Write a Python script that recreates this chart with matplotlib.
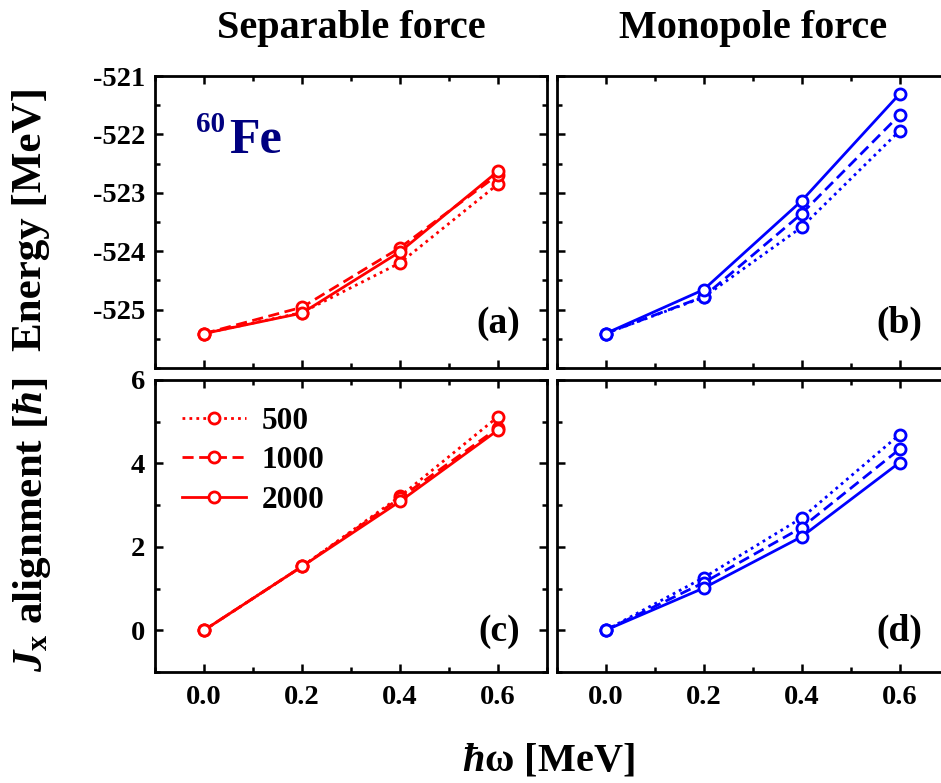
import matplotlib
matplotlib.use("Agg")
import matplotlib.pyplot as plt
from matplotlib.ticker import MultipleLocator

plt.rcParams['font.family'] = ['Liberation Serif', 'DejaVu Serif']
plt.rcParams['font.weight'] = 'bold'
plt.rcParams['mathtext.fontset'] = 'custom'
plt.rcParams['mathtext.rm'] = 'Liberation Serif:bold'
plt.rcParams['mathtext.it'] = 'Liberation Serif:italic:bold'
plt.rcParams['mathtext.bf'] = 'Liberation Serif:bold'

# ---- data ----
omega = [0.0, 0.2, 0.4, 0.6]
labels = ['500', '1000', '2000']
styles = [':', '--', '-']

# Separable force energies
E_sep_500 = [-525.41, -525.05, -524.20, -522.85]
E_sep_1000 = [-525.41, -524.96, -523.94, -522.69]
E_sep_2000 = [-525.41, -525.06, -524.01, -522.63]
# Monopole force energies
E_mon_500 = [-525.41, -524.79, -523.59, -521.94]
E_mon_1000 = [-525.41, -524.78, -523.36, -521.67]
E_mon_2000 = [-525.41, -524.66, -523.14, -521.31]
# Separable alignment
J_sep_500 = [0.0, 1.53, 3.21, 5.12]
J_sep_1000 = [0.0, 1.53, 3.17, 4.85]
J_sep_2000 = [0.0, 1.53, 3.09, 4.80]
# Monopole alignment
J_mon_500 = [0.0, 1.26, 2.69, 4.69]
J_mon_1000 = [0.0, 1.14, 2.46, 4.34]
J_mon_2000 = [0.0, 1.01, 2.24, 4.02]

RED = '#ff0000'
BLUE = '#0000ff'
NAVY = '#000080'

W, H = 941, 783
fig = plt.figure(figsize=(W/100, H/100), dpi=100)

def ax_at(x0, y0, x1, y1):
    return fig.add_axes([x0/W, 1-y1/H, (x1-x0)/W, (y1-y0)/H])

def fx(px):
    return px / W

def fy(py):
    return 1 - py / H

axA = ax_at(155, 76, 547, 368)
axB = ax_at(556.5, 76, 948.5, 368)
axC = ax_at(155, 380, 547, 672)
axD = ax_at(556.5, 380, 948.5, 672)

def style(ax, ylim, ymaj, ymin, showx, showy):
    ax.set_xlim(-0.1, 0.7)
    ax.set_ylim(*ylim)
    ax.xaxis.set_major_locator(MultipleLocator(0.2))
    ax.xaxis.set_minor_locator(MultipleLocator(0.1))
    ax.yaxis.set_major_locator(MultipleLocator(ymaj))
    ax.yaxis.set_minor_locator(MultipleLocator(ymin))
    ax.tick_params(which='both', direction='in', top=True, right=True,
                   labelsize=20.5, width=1.8)
    ax.tick_params(axis='x', pad=9)
    ax.tick_params(axis='y', pad=7)
    ax.tick_params(which='major', length=6)
    ax.tick_params(which='minor', length=3.5)
    for s in ax.spines.values():
        s.set_linewidth(2.0)
    if not showx:
        ax.tick_params(labelbottom=False)
    else:
        ax.set_xticks(omega)
        ax.set_xticklabels(['%.1f' % v for v in omega])
    if not showy:
        ax.tick_params(labelleft=False)

DASHES = {':': (1, 1.5), '--': (4, 2)}

def plot3(ax, series, color):
    for ys, ls, lab in zip(series, styles, labels):
        line, = ax.plot(omega, ys, ls=ls, color=color, lw=2.0, marker='o', ms=8,
                        mfc='white', mec=color, mew=2.0, label=lab)
        if ls in DASHES:
            line.set_dashes(DASHES[ls])

plot3(axA, [E_sep_500, E_sep_1000, E_sep_2000], RED)
plot3(axB, [E_mon_500, E_mon_1000, E_mon_2000], BLUE)
plot3(axC, [J_sep_500, J_sep_1000, J_sep_2000], RED)
plot3(axD, [J_mon_500, J_mon_1000, J_mon_2000], BLUE)

style(axA, (-526, -521), 1, 0.5, False, True)
style(axB, (-526, -521), 1, 0.5, False, False)
style(axC, (-1, 6), 2, 1, True, True)
style(axD, (-1, 6), 2, 1, True, False)
axA.set_yticks([-525, -524, -523, -522, -521])
axA.set_yticklabels(['-525', '-524', '-523', '-522', '-521'])

for ax, t, yy in zip([axA, axB, axC, axD], ['(a)', '(b)', '(c)', '(d)'],
                     [0.152, 0.152, 0.138, 0.138]):
    ax.text(0.932, yy, t, transform=ax.transAxes,
            ha='right', va='center', fontsize=27, fontweight='bold')

leg = axC.legend(loc='upper left', frameon=False, fontsize=22.5, handlelength=2.05,
                 borderaxespad=0.0, labelspacing=0.33, handletextpad=0.5,
                 borderpad=0.0, bbox_to_anchor=((182-155)/392, (672-407)/292))

fig.text(fx(196), fy(132), '60', fontsize=21, fontweight='bold', color=NAVY,
         ha='left', va='baseline')
fig.text(fx(229), fy(153), 'Fe', fontsize=36, fontweight='bold', color=NAVY,
         ha='left', va='baseline')

fig.text(fx(351), fy(38), 'Separable force', ha='center', va='baseline', fontsize=29, fontweight='bold')
fig.text(fx(753), fy(38), 'Monopole force', ha='center', va='baseline', fontsize=29, fontweight='bold')
fig.text(fx(31), fy(219), 'Energy [MeV]', rotation=90, ha='center', va='center', fontsize=31, fontweight='bold')
fig.text(fx(32), fy(525), r'$J_\mathrm{x}$ alignment [$ħ$]', rotation=90, ha='center', va='center', fontsize=31, fontweight='bold')
fig.text(fx(548), fy(771), r'$ħ$ω [MeV]', ha='center', va='baseline', fontsize=29, fontweight='bold')

fig.savefig('out.png', dpi=100)
